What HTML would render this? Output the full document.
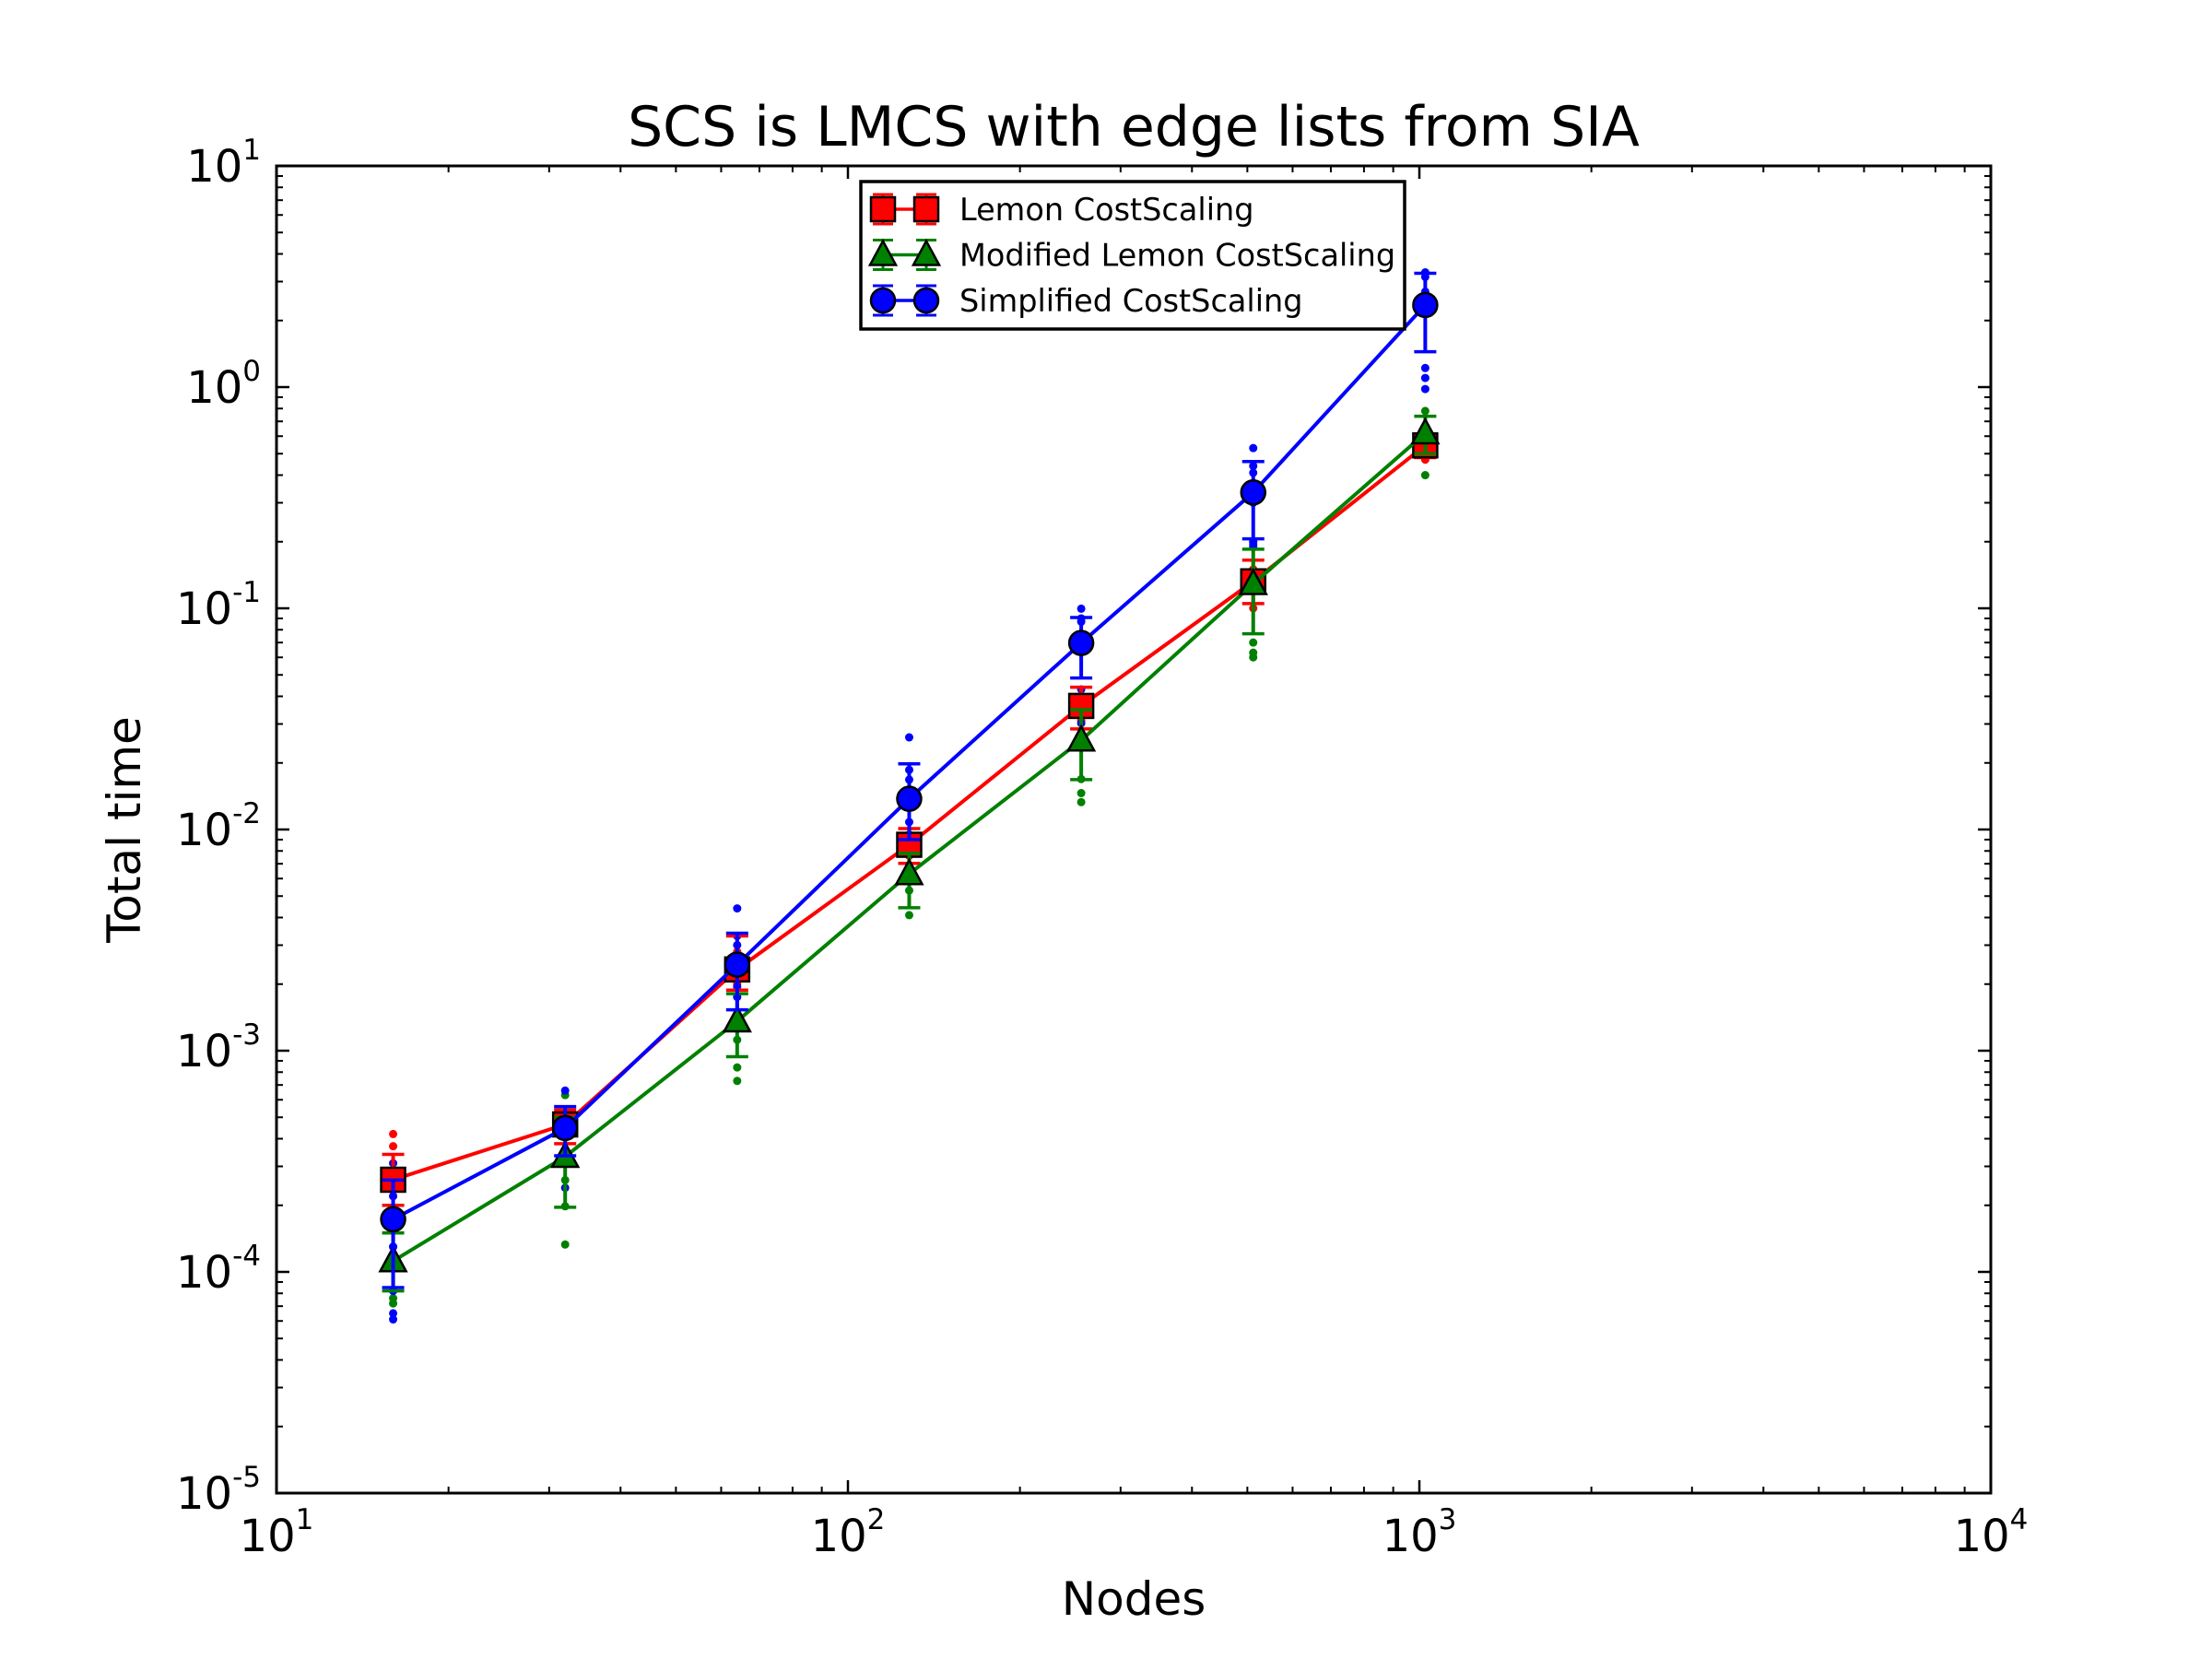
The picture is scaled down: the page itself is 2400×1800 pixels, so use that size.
<!DOCTYPE html>
<html><head><meta charset="utf-8"><style>
html,body{margin:0;padding:0;background:#fff;}
svg{display:block;font-family:"DejaVu Sans","Liberation Sans",sans-serif;}
</style></head><body>
<svg id="chart" width="2400" height="1800" viewBox="0 0 2400 1800" xmlns="http://www.w3.org/2000/svg">
<rect width="2400" height="1800" fill="#fff"/>
<text x="1230" y="158" font-size="60" text-anchor="middle">SCS is LMCS with edge lists from SIA</text>
<text x="1230" y="1752" font-size="50" text-anchor="middle">Nodes</text>
<text x="0" y="0" font-size="50" text-anchor="middle" transform="translate(152,900) rotate(-90)">Total time</text>
<g id="grid"></g>
<g id="marks"></g>
<rect x="300" y="180" width="1860" height="1440" fill="none" stroke="#000" stroke-width="3"/>
<g id="legend"></g>
</svg>
<script>
const nodes = [16, 32, 64, 128, 256, 512, 1024];
const xTickExps = [1, 2, 3, 4];
const yTickExps = [-5, -4, -3, -2, -1, 0, 1];

const redMean = [2.61e-4, 4.64e-4, 2.33e-3, 8.53e-3, 0.0362, 0.1324, 0.545];
const redLo   = [2.0e-4, 3.8e-4, 1.88e-3, 7.03e-3, 0.0285, 0.105, 0.48];
const redHi   = [3.4e-4, 5.4e-4, 3.3e-3, 0.0101, 0.044, 0.165, 0.61];
const redDots = [[4.2e-4, 3.7e-4, 2.2e-4], [5.0e-4], [2.8e-3, 2.0e-3], [9.5e-3, 7.6e-3], [0.04, 0.031], [0.1, 0.15], [0.47, 0.6]];

const greenMean = [1.12e-4, 3.32e-4, 1.36e-3, 6.3e-3, 0.0253, 0.129, 0.619];
const greenLo   = [8.2e-5, 1.96e-4, 9.4e-4, 4.43e-3, 0.0168, 0.0767, 0.5];
const greenHi   = [1.5e-4, 5.0e-4, 1.81e-3, 7.8e-3, 0.0348, 0.185, 0.738];
const greenDots = [[7.6e-5, 7.2e-5, 1.3e-4], [6.3e-4, 2.6e-4, 1.98e-4, 1.33e-4], [1.12e-3, 8.4e-4, 7.3e-4], [5.3e-3, 4.1e-3], [0.0169, 0.0146, 0.0133], [0.2, 0.07, 0.063, 0.06], [0.78, 0.4]];

const blueMean = [1.73e-4, 4.47e-4, 2.45e-3, 0.01377, 0.0697, 0.334, 2.35];
const blueLo   = [8.5e-5, 3.35e-4, 1.53e-3, 9.0e-3, 0.0484, 0.206, 1.445];
const blueHi   = [2.6e-4, 5.59e-4, 3.4e-3, 0.0198, 0.0908, 0.461, 3.27];
const blueDots = [[3.1e-4, 2.2e-4, 1.3e-4, 8.2e-5, 6.5e-5, 6.1e-5], [6.6e-4, 2.4e-4], [4.4e-3, 3.3e-3, 3.0e-3, 1.95e-3, 1.75e-3], [0.0261, 0.0186, 0.0168, 0.0108], [0.0996, 0.09, 0.087, 0.043, 0.0302], [0.53, 0.44, 0.41, 0.3, 0.2, 0.195, 0.19], [3.3, 3.15, 2.7, 1.22, 1.1, 0.98]];

const L = 300, R = 2160, T = 180, B = 1620;
function xs(v) { return L + (Math.log10(v) - 1) / 3 * (R - L); }
function ys(v) { return B - (Math.log10(v) + 5) / 6 * (B - T); }

const NS = 'http://www.w3.org/2000/svg';
function mk(tag, attrs, parent) {
  const e = document.createElementNS(NS, tag);
  for (const k in attrs) e.setAttribute(k, attrs[k]);
  parent.appendChild(e);
  return e;
}
const grid = document.getElementById('grid');
const marks = document.getElementById('marks');
const legend = document.getElementById('legend');

xTickExps.forEach(function (p) {
  const x = xs(Math.pow(10, p));
  const t = mk('text', { x: x, y: 1683, 'font-size': 48, 'text-anchor': 'middle' }, grid);
  
  
  t.textContent = '10';
  const s = document.createElementNS(NS, 'tspan');
  s.setAttribute('font-size', '31'); s.setAttribute('dy', '-24');
  s.textContent = String(p); t.appendChild(s);
  if (p < 4) mk('line', { x1: x, x2: x, y1: B, y2: B - 14, stroke: '#000', 'stroke-width': 2.5 }, grid);
  if (p < 4) mk('line', { x1: x, x2: x, y1: T, y2: T + 14, stroke: '#000', 'stroke-width': 2.5 }, grid);
  if (p < 4) for (let m = 2; m <= 9; m++) {
    const xm = xs(m * Math.pow(10, p));
    mk('line', { x1: xm, x2: xm, y1: B, y2: B - 7, stroke: '#000', 'stroke-width': 2 }, grid);
    mk('line', { x1: xm, x2: xm, y1: T, y2: T + 7, stroke: '#000', 'stroke-width': 2 }, grid);
  }
});
yTickExps.forEach(function (p) {
  const y = ys(Math.pow(10, p));
  const t = mk('text', { x: 283, y: y + 17, 'font-size': 48, 'text-anchor': 'end' }, grid);
  
  
  t.textContent = '10';
  const s = document.createElementNS(NS, 'tspan');
  s.setAttribute('font-size', '31'); s.setAttribute('dy', '-24');
  s.textContent = String(p); t.appendChild(s);
  mk('line', { x1: L, x2: L + 14, y1: y, y2: y, stroke: '#000', 'stroke-width': 2.5 }, grid);
  mk('line', { x1: R, x2: R - 14, y1: y, y2: y, stroke: '#000', 'stroke-width': 2.5 }, grid);
  if (p < 1) for (let m = 2; m <= 9; m++) {
    const ym = ys(m * Math.pow(10, p));
    mk('line', { x1: L, x2: L + 7, y1: ym, y2: ym, stroke: '#000', 'stroke-width': 2 }, grid);
    mk('line', { x1: R, x2: R - 7, y1: ym, y2: ym, stroke: '#000', 'stroke-width': 2 }, grid);
  }
});

function marker(kind, cx, cy, color, parent, sz) {
  const h = sz || 13;
  let e;
  if (kind === 's') e = mk('rect', { x: cx - h, y: cy - h, width: 2 * h, height: 2 * h }, parent);
  else if (kind === '^') e = mk('polygon', { points: (cx) + ',' + (cy - h * 1.15) + ' ' + (cx + h * 1.08) + ',' + (cy + h * 0.85) + ' ' + (cx - h * 1.08) + ',' + (cy + h * 0.85) }, parent);
  else e = mk('circle', { cx: cx, cy: cy, r: h }, parent);
  e.setAttribute('fill', color); e.setAttribute('stroke', '#000'); e.setAttribute('stroke-width', 2.5);
  return e;
}

const series = [
  { name: 'red', color: '#ff0000', kind: 's', mean: redMean, lo: redLo, hi: redHi, dots: redDots },
  { name: 'green', color: '#008000', kind: '^', mean: greenMean, lo: greenLo, hi: greenHi, dots: greenDots },
  { name: 'blue', color: '#0000ff', kind: 'o', mean: blueMean, lo: blueLo, hi: blueHi, dots: blueDots }
];
series.forEach(function (s) {
  const g = mk('g', {}, marks);
  
  
  s.dots.forEach(function (arr, i) {
    arr.forEach(function (v) {
      const c = mk('circle', { cx: xs(nodes[i]), cy: ys(v), r: 4.5, fill: s.color }, g);
      
      
    });
  });
});
series.forEach(function (s) {
  const g = mk('g', {}, marks);
  
  
  s.mean.forEach(function (v, i) {
    const x = xs(nodes[i]);
    mk('line', { x1: x, x2: x, y1: ys(s.lo[i]), y2: ys(s.hi[i]), stroke: s.color, 'stroke-width': 4 }, g);
    [s.lo[i], s.hi[i]].forEach(function (c) {
      mk('line', { x1: x - 12, x2: x + 12, y1: ys(c), y2: ys(c), stroke: s.color, 'stroke-width': 3.5 }, g);
    });
  });
  const pts = s.mean.map(function (v, i) { return xs(nodes[i]) + ',' + ys(v); }).join(' ');
  const pl = mk('polyline', { points: pts, fill: 'none', stroke: s.color, 'stroke-width': 4 }, g);
  
  
  s.mean.forEach(function (v, i) {
    const m = marker(s.kind, xs(nodes[i]), ys(v), s.color, g);
    
    
  });
});

const lb = mk('rect', { x: 934, y: 197, width: 590, height: 160, fill: '#fff', stroke: '#000', 'stroke-width': 3.5 }, legend);


const labels = ['Lemon CostScaling', 'Modified Lemon CostScaling', 'Simplified CostScaling'];
series.forEach(function (s, i) {
  const cy = 227 + i * 49.5;
  const g = mk('g', {}, legend);
  
  
  mk('line', { x1: 958, x2: 1005, y1: cy, y2: cy, stroke: s.color, 'stroke-width': 3.5 }, g);
  [958, 1005].forEach(function (x) {
    mk('line', { x1: x, x2: x, y1: cy - 16, y2: cy + 16, stroke: s.color, 'stroke-width': 3 }, g);
    mk('line', { x1: x - 11, x2: x + 11, y1: cy - 16, y2: cy - 16, stroke: s.color, 'stroke-width': 3 }, g);
    mk('line', { x1: x - 11, x2: x + 11, y1: cy + 16, y2: cy + 16, stroke: s.color, 'stroke-width': 3 }, g);
    marker(s.kind, x, cy, s.color, g, 13);
  });
  const t = mk('text', { x: 1041, y: cy + 12, 'font-size': 33.5 }, g);
  t.textContent = labels[i];
});
</script>
</body></html>
